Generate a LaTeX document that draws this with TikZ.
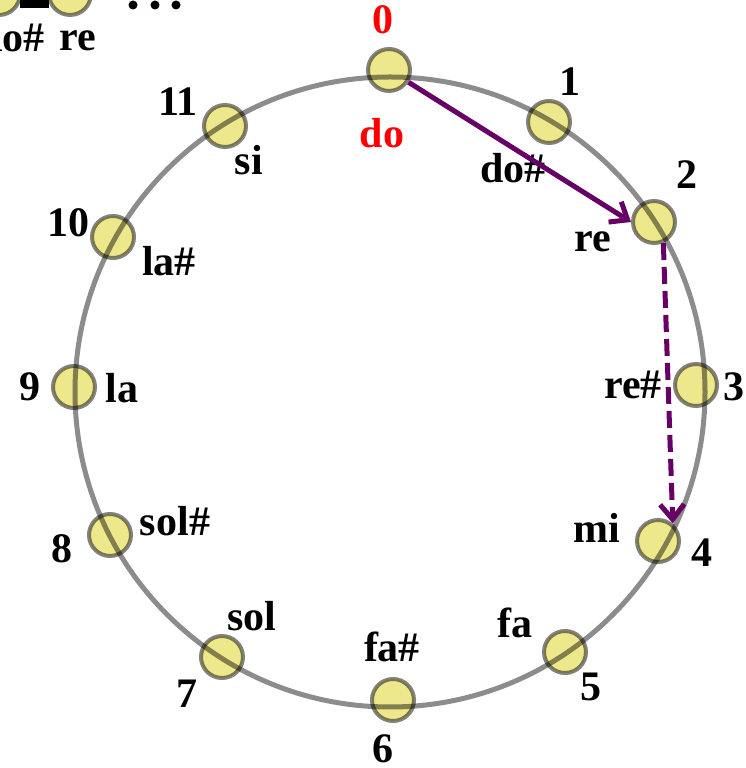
\documentclass[tikz,border=0pt]{standalone}
\usepackage{fontspec}
\setmainfont{Liberation Serif}
\usetikzlibrary{arrows.meta}
\definecolor{ringgray}{RGB}{140,140,140}
\definecolor{notefill}{RGB}{238,232,140}
\definecolor{noteedge}{RGB}{130,130,130}
\definecolor{hop}{RGB}{102,0,102}

\begin{document}
\begin{tikzpicture}[x=1pt, y=1pt,
    note/.style={circle, draw=noteedge, fill=notefill, line width=4pt, minimum size=42pt, inner sep=0pt},
    numtxt/.style={font=\fontsize{42}{50}\selectfont\bfseries, inner sep=0pt},
    sylltxt/.style={font=\fontsize{42}{50}\selectfont\bfseries, inner sep=0pt},
    ring/.style={draw=ringgray, line width=5pt},
    hoparrow/.style={-{Straight Barb[length=15pt, width=24pt]}, hop, line width=5pt}
]
    \useasboundingbox (0,0) rectangle (745,768);
    \clip (0,0) rectangle (745,768);

    % cut-off strip of the previous figure
    \coordinate (topdosc) at (-1,774);
    \coordinate (topre) at (70,774);
    \draw[line width=8pt] ([shift={(-25:23)}]topdosc) -- ([shift={(205:23)}]topre);
    \fill (133,763) circle (4.5);
    \fill (155,763) circle (4.5);
    \fill (176,763) circle (4.5);
    \node[sylltxt] (topdostxt) at (12,731) {do\#};
    \node[sylltxt] (topretxt) at (78,727) {re};

    % the ring
    \draw[ring] (390,376) circle (315);

    \begin{scope}[blend mode=multiply]
        \node[note] (topdos) at (topdosc) {};
        \node[note] (topren) at (topre) {};
        \node[note] (do) at (389,698) {};
        \node[note] (dos) at (549,646) {};
        \node[note] (re) at (654,546) {};
        \node[note] (res) at (696,383) {};
        \node[note] (mi) at (658,227) {};
        \node[note] (fa) at (565,116) {};
        \node[note] (fas) at (393,68) {};
        \node[note] (sol) at (222,111) {};
        \node[note] (sols) at (110,233) {};
        \node[note] (la) at (74,381) {};
        \node[note] (las) at (113,531) {};
        \node[note] (si) at (225,642) {};
    \end{scope}

    % numbers
    \node[numtxt, red] (donum) at (383,748) {0};
    \node[numtxt] (dosnum) at (570,686) {1};
    \node[numtxt] (renum) at (687,593) {2};
    \node[numtxt] (resnum) at (734,381) {3};
    \node[numtxt] (minum) at (702,215) {4};
    \node[numtxt] (fanum) at (591,81) {5};
    \node[numtxt] (fasnum) at (383,19) {6};
    \node[numtxt] (solnum) at (187,74) {7};
    \node[numtxt] (solsnum) at (62,219) {8};
    \node[numtxt] (lanum) at (30,381) {9};
    \node[numtxt] (lasnum) at (68,545) {10};
    \node[numtxt] (sinum) at (178,666) {11};

    % note names
    \node[sylltxt, red] (dotxt) at (382,635) {do};
    \node[sylltxt] (dostxt) at (513,600) {do\#};
    \node[sylltxt] (retxt) at (593,526) {re};
    \node[sylltxt] (restxt) at (633,383) {re\#};
    \node[sylltxt] (mitxt) at (597,240) {mi};
    \node[sylltxt] (fatxt) at (515,145) {fa};
    \node[sylltxt] (fastxt) at (392,121) {fa\#};
    \node[sylltxt] (soltxt) at (252,152) {sol};
    \node[sylltxt] (solstxt) at (175,247) {sol\#};
    \node[sylltxt] (latxt) at (122,380) {la};
    \node[sylltxt] (lastxt) at (169,507) {la\#};
    \node[sylltxt] (sitxt) at (249,608) {si};

    % steps
    \draw[hoparrow] (do) -- (re.west);
    \draw[hoparrow, dash pattern=on 17pt off 7pt] (re.-66) -- (mi.50);
\end{tikzpicture}
\end{document}
